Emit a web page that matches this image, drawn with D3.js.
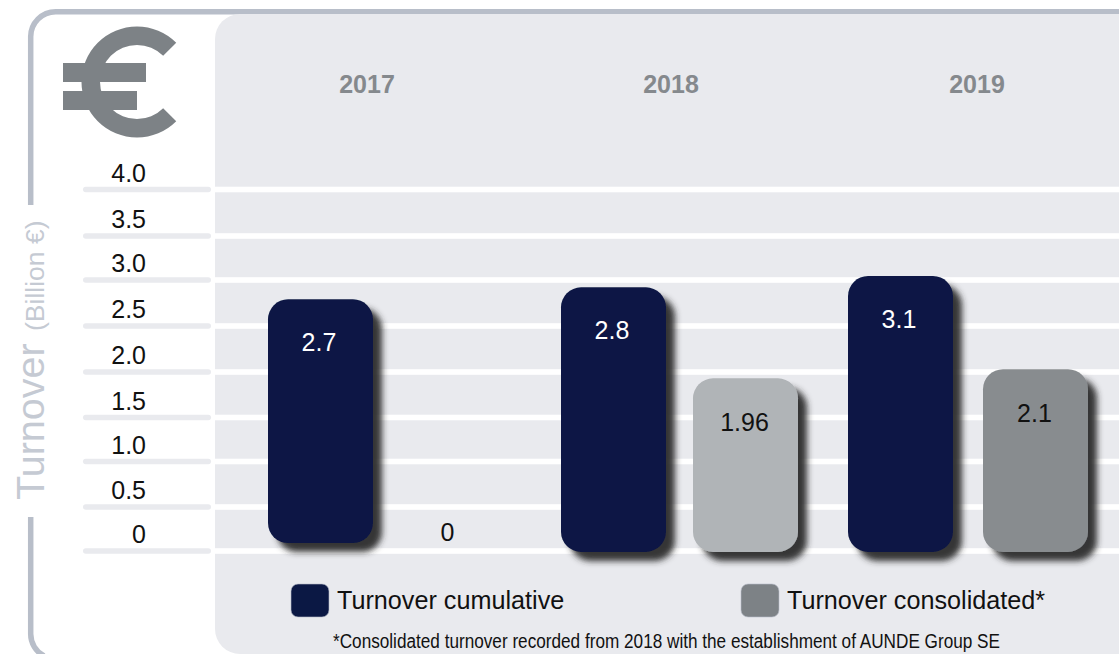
<!DOCTYPE html>
<html><head><meta charset="utf-8">
<script src="https://cdn.jsdelivr.net/npm/d3@7/dist/d3.min.js"></script>
<style>html,body{margin:0;padding:0;background:#fff}svg{display:block}text{font-family:"Liberation Sans",Arial,sans-serif}</style>
</head><body><svg id="c" width="1119" height="654"></svg>
<script>
const years = ["2017","2018","2019"];
const tickValues = [0,0.5,1,1.5,2,2.5,3,3.5,4];
const tickLabels = ["0","0.5","1.0","1.5","2.0","2.5","3.0","3.5","4.0"];
const cumulativeTop = [2.79,2.92,3.045];
const cumulativeBase = [0.09,-0.01,-0.01];
const cumulativeLabels = ["2.7","2.8","3.1"];
const consolidatedTop = [null,1.93,2.03];
const consolidatedBase = [null,-0.01,-0.01];
const consolidatedLabels = ["0","1.96","2.1"];
const seriesNames = ["Turnover cumulative","Turnover consolidated*"];
const footnote = "*Consolidated turnover recorded from 2018 with the establishment of AUNDE Group SE";

const svg = d3.select("#c");
const y = d3.scaleLinear().domain(tickValues).range([551,507,461.5,417.5,372,326,280,236,189.5]);
const yearX = d3.scaleOrdinal().domain(years).range([367,671,977]);
const cumLeft = d3.scaleOrdinal().domain(years).range([268,561,848]);
const conLeft = d3.scaleOrdinal().domain(years).range([395,693,983]);
const barW = 105, radius = 20;
const colNavy="#0b1844", colPanel="#e9eaee", colFrame="#b8bec9", colIcon="#7d8286", colLabel="#c5cad3";

const defs = svg.append("defs");
const f = defs.append("filter").attr("id","sh").attr("x","-20%").attr("y","-20%").attr("width","150%").attr("height","150%");
f.append("feDropShadow").attr("dx",9).attr("dy",9).attr("stdDeviation",3.2).attr("flood-color","#2a2a2a").attr("flood-opacity",0.95);

// frame
const frame = svg.append("g").attr("fill","none").attr("stroke",colFrame).attr("stroke-width",5.5);
frame.append("path").attr("d","M30.7,205 V37 A25,25 0 0 1 55.7,11.7 H1119");
frame.append("path").attr("d","M30.7,517 V634 A25,25 0 0 0 44,656");

// panel
svg.append("path").attr("fill",colPanel).attr("d","M1119,14 H240 A25,25 0 0 0 215,39 V629 A25,25 0 0 0 240,654 H1119 Z");

// gridlines and ticks
svg.append("g").selectAll("rect").data(tickValues).join("rect")
  .attr("x",215).attr("width",904).attr("y",d=>y(d)-2.8).attr("height",5.6).attr("fill","#fff");
svg.append("g").selectAll("rect").data(tickValues).join("rect")
  .attr("x",83).attr("width",128).attr("y",d=>y(d)-2.8).attr("height",5.6).attr("rx",2.8).attr("fill",colPanel);
svg.append("g").selectAll("text").data(tickValues).join("text")
  .attr("x",146).attr("y",d=>y(d)-8).attr("text-anchor","end")
  .attr("font-size",25).attr("fill","#111").text((d,i)=>tickLabels[i]);

// euro icon
const euro = svg.append("g").attr("fill",colIcon);
euro.append("path").attr("transform","translate(137,82)")
  .attr("d",d3.arc().innerRadius(37).outerRadius(55.5).startAngle(Math.PI*0.75).endAngle(Math.PI*2.25)());
euro.append("rect").attr("x",63).attr("y",63).attr("width",83).attr("height",19);
euro.append("rect").attr("x",63).attr("y",91).attr("width",74).attr("height",19);

// years
svg.append("g").selectAll("text").data(years).join("text")
  .attr("x",d=>yearX(d)).attr("y",93).attr("text-anchor","middle")
  .attr("font-size",25).attr("font-weight","bold").attr("fill","#85898d").text(d=>d);

// axis title
svg.append("text").attr("transform","translate(44,500) rotate(-90)").attr("font-size",39.5).attr("fill",colLabel).text("Turnover");
svg.append("text").attr("transform","translate(44,331) rotate(-90)").attr("font-size",26.5).attr("fill",colLabel).text("(Billion €)");

// bars
const bar = (x,top,base,fill)=>svg.append("rect").attr("x",x).attr("y",y(top)).attr("width",barW)
  .attr("height",y(base)-y(top)).attr("rx",radius).attr("fill",fill).attr("filter","url(#sh)");
years.forEach((yr,i)=>{
  bar(cumLeft(yr),cumulativeTop[i],cumulativeBase[i],colNavy);
  svg.append("text").attr("x",cumLeft(yr)+barW/2-1.5).attr("y",y(cumulativeTop[i])+52).attr("text-anchor","middle")
    .attr("font-size",25).attr("fill","#fff").text(cumulativeLabels[i]);
  if(consolidatedTop[i]!==null){
    bar(conLeft(yr),consolidatedTop[i],consolidatedBase[i],i===1?"#b0b4b7":"#888c8f");
    svg.append("text").attr("x",conLeft(yr)+barW/2-1).attr("y",y(consolidatedTop[i])+53).attr("text-anchor","middle")
      .attr("font-size",25).attr("fill","#111").text(consolidatedLabels[i]);
  } else {
    svg.append("text").attr("x",conLeft(yr)+barW/2).attr("y",541).attr("text-anchor","middle")
      .attr("font-size",25).attr("fill","#111").text(consolidatedLabels[i]);
  }
});

// legend
const legX = d3.scaleOrdinal().domain(seriesNames).range([291,741]);
const legC = d3.scaleOrdinal().domain(seriesNames).range([colNavy,colIcon]);
const leg = svg.append("g").selectAll("g").data(seriesNames).join("g");
leg.append("rect").attr("x",d=>legX(d)).attr("y",584).attr("width",38).attr("height",33).attr("rx",7)
  .attr("fill",d=>legC(d)).attr("stroke","#b8bec9").attr("stroke-width",0.6);
leg.append("text").attr("x",d=>legX(d)+46).attr("y",609).attr("font-size",25.2).attr("fill","#111").text(d=>d);

svg.append("text").attr("x",333).attr("y",648).attr("font-size",20).attr("fill","#111")
  .attr("textLength",667).attr("lengthAdjust","spacingAndGlyphs").text(footnote);
</script></body></html>
